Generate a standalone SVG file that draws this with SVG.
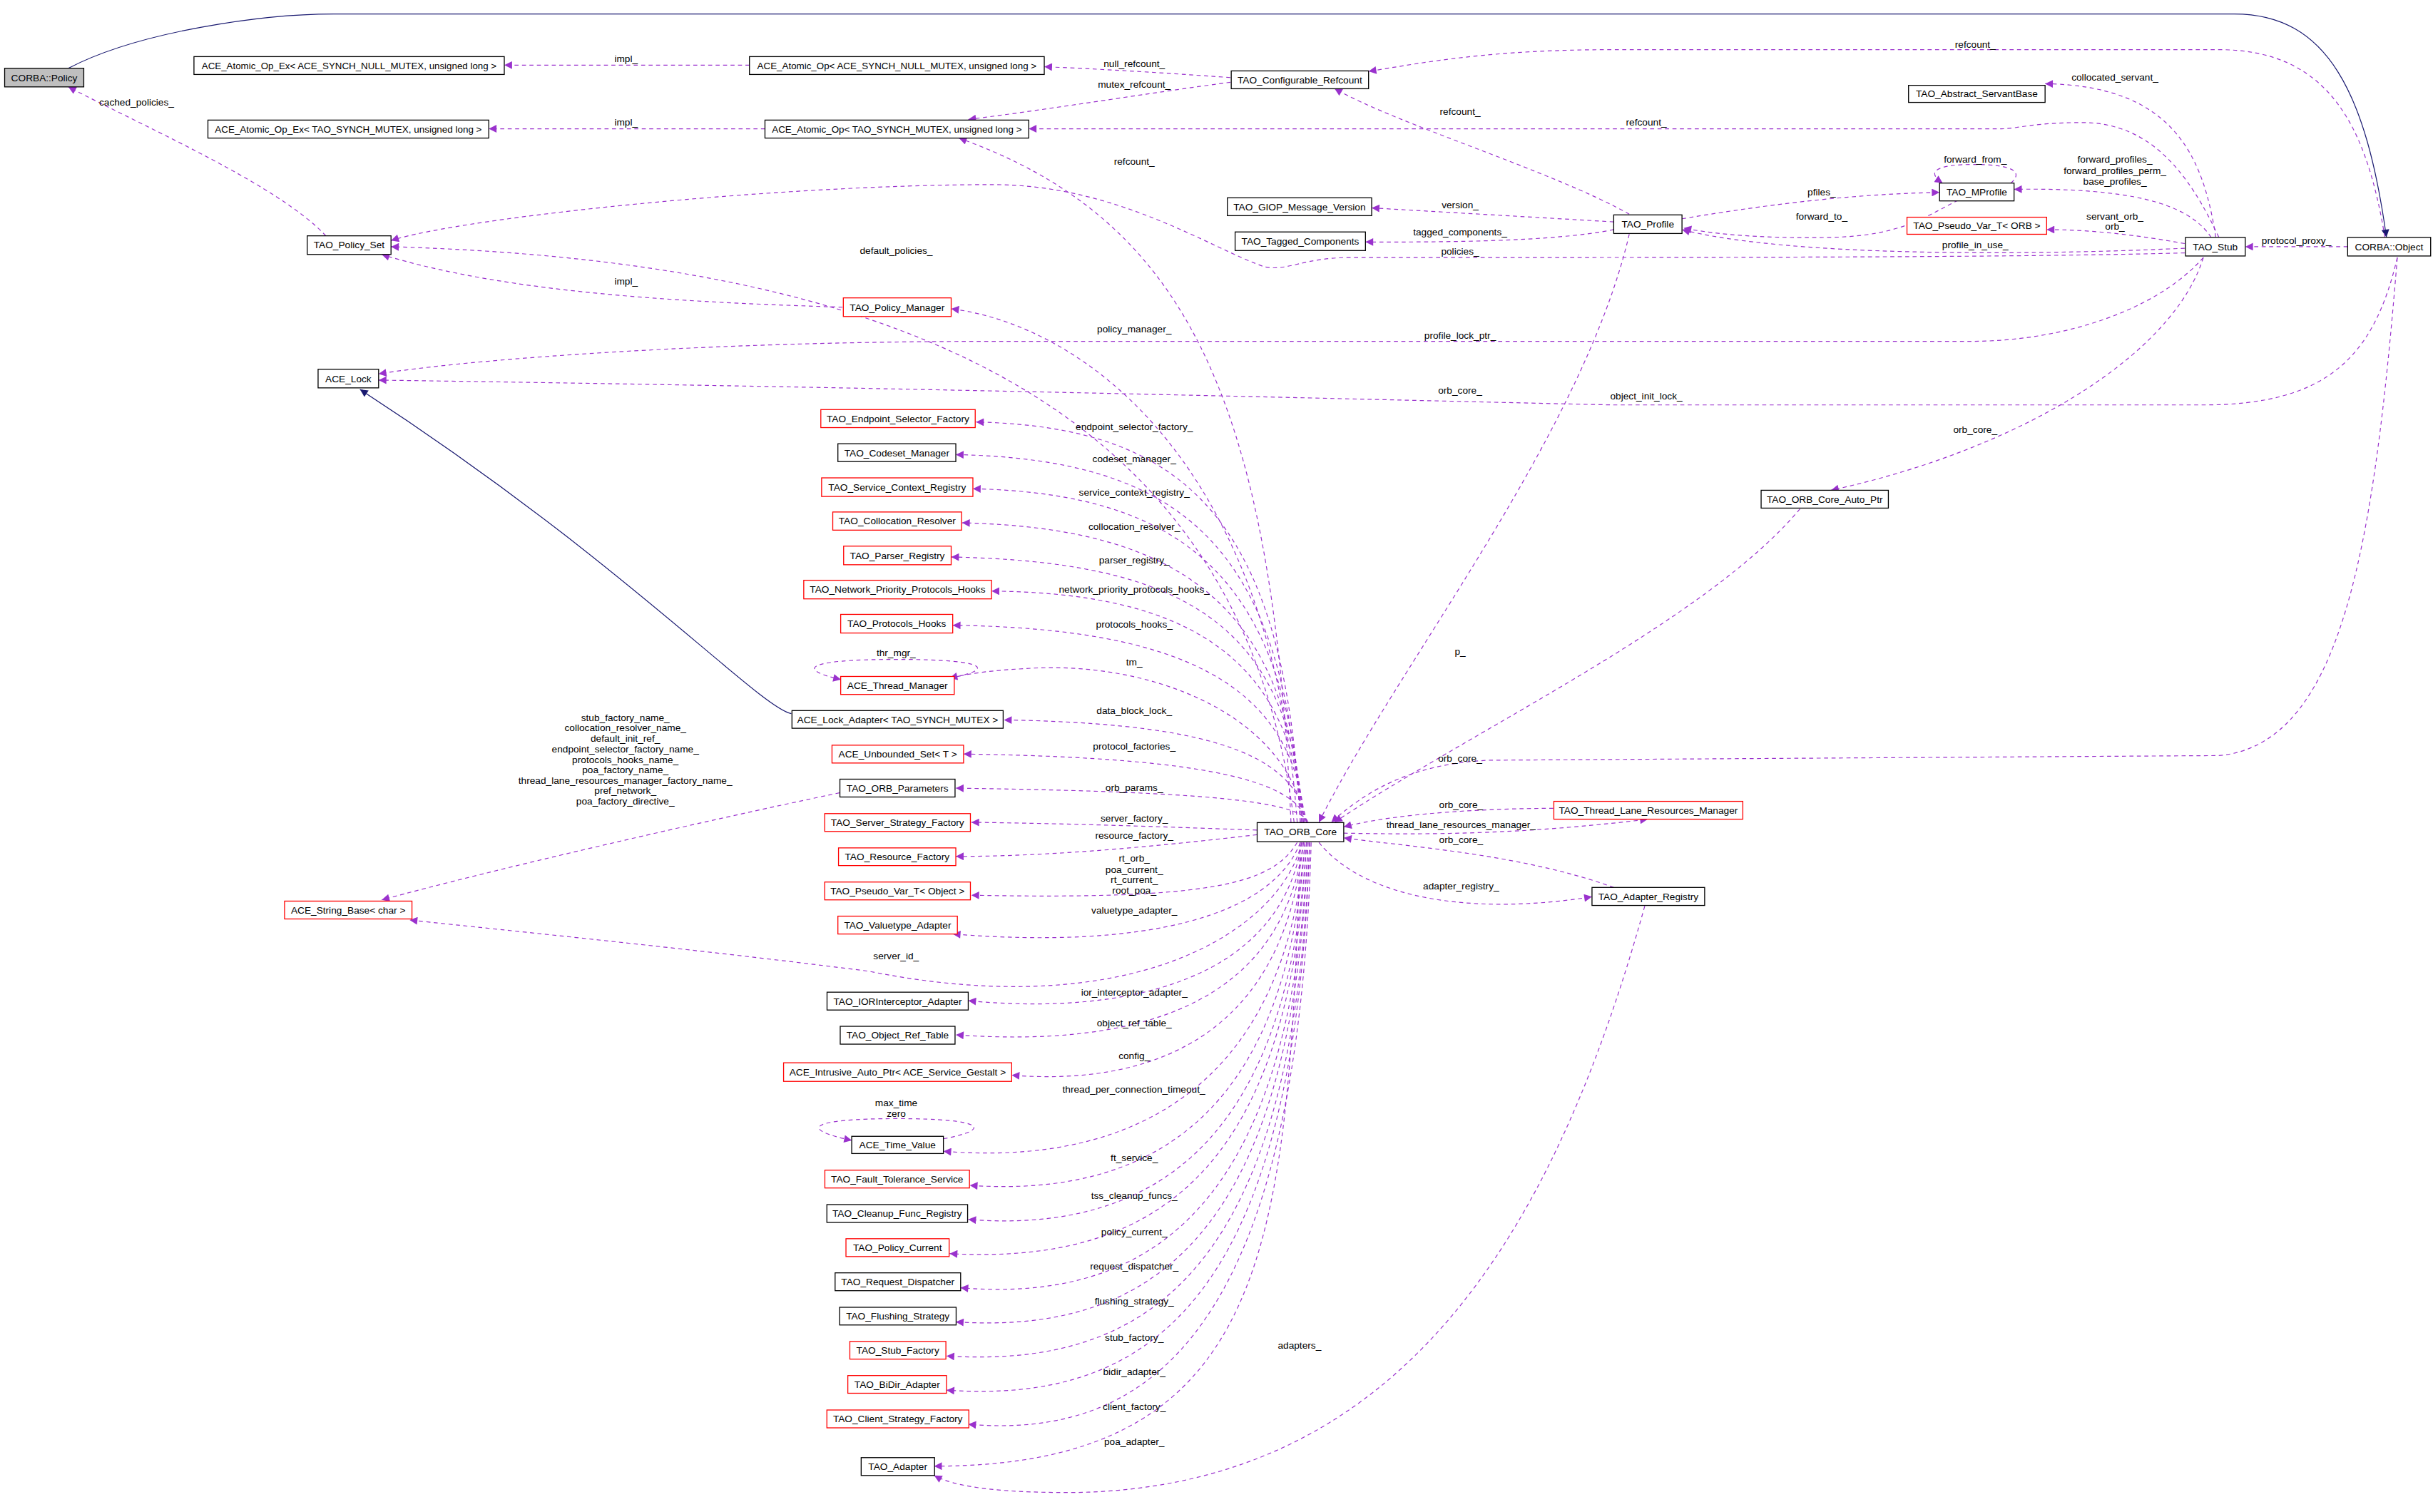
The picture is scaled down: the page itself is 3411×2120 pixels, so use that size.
<svg xmlns="http://www.w3.org/2000/svg" width="3411" height="2120" viewBox="0 0 3411 2120">
<style>
.n rect{fill:#fff;stroke:#000;stroke-width:0.6}
.n.r rect{stroke:#ff0000}
.n.g rect{fill:#bfbfbf}
text{font-family:"Liberation Sans",Arial,sans-serif;font-size:6.3px;fill:#000;text-anchor:middle}
#edges path{fill:none;stroke:#9a32cd;stroke-width:0.55;stroke-dasharray:2.6,2.2;marker-end:url(#ap)}
#edges path.h{stroke:#191970;stroke-dasharray:none;marker-end:url(#an)}
</style>
<defs>
<marker id="ap" viewBox="0 0 10 10" refX="10" refY="5" markerWidth="6.5" markerHeight="5" markerUnits="userSpaceOnUse" orient="auto"><path d="M0,0L10,5L0,10z" fill="#9a32cd"/></marker>
<marker id="an" viewBox="0 0 10 10" refX="10" refY="5" markerWidth="6.5" markerHeight="5" markerUnits="userSpaceOnUse" orient="auto"><path d="M0,0L10,5L0,10z" fill="#191970"/></marker>
</defs>
<rect width="3411" height="2120" fill="#fff"/>
<g transform="scale(2.17538)">
<g id="edges">
<path class="h" d="M44 44 C90 20 170 9 215 9 L1440 9 C1500 9 1525 60 1538 153"/>
<path class="h" d="M510 460 C488 455 400 360 232 251"/>
<path d="M483 42 L325 42"/>
<path d="M493 83 L315 83"/>
<path d="M793 50 C750 47 720 45 673 43"/>
<path d="M793 53 C740 60 680 70 624 77"/>
<path d="M1537 153 C1525 80 1500 32 1430 32 L1040 32 C960 32 920 40 882 46"/>
<path d="M1430 153 C1410 110 1385 79 1342 79 C1310 79 1300 83 1290 83 L663 83"/>
<path d="M1050 138 C1000 110 900 80 860 57"/>
<path d="M832 530 C820 250 760 140 618 89"/>
<path d="M1428 153 C1420 100 1400 55 1318 54"/>
<path d="M1296 118 C1305 110 1295 106 1272 106 C1250 106 1240 110 1252 118"/>
<path d="M1425 153 C1410 130 1370 121 1298 122"/>
<path d="M1084 141 C1150 130 1200 125 1250 124"/>
<path d="M1262 129 C1240 140 1225 152 1180 153 C1130 154 1100 150 1085 147"/>
<path d="M1040 143 L884 134"/>
<path d="M1040 148 C1000 156 930 156 880 156"/>
<path d="M1408 160 C1300 165 1150 165 1084 148"/>
<path d="M1408 157 C1380 152 1350 148 1319 148"/>
<path d="M1513 159 L1447 159"/>
<path d="M1408 163 C1300 166 1100 166 870 166 C840 166 830 175 815 172 C780 160 720 119 640 119 C500 119 300 140 252 155"/>
<path d="M834 530 C800 250 560 168 252 159"/>
<path d="M210 152 C180 120 100 85 44 56"/>
<path d="M543 198 C450 195 330 190 246 164"/>
<path d="M836 530 C820 300 700 210 613 199"/>
<path d="M1420 166 C1390 200 1330 220 1270 220 L640 220 C450 220 300 232 244 241"/>
<path d="M1545 166 C1530 230 1500 261 1420 261 L1040 261 C900 258 600 250 244 245"/>
<path d="M1050 151 C1020 280 900 430 850 530"/>
<path d="M1420 166 C1400 230 1300 290 1180 316"/>
<path d="M1160 328 C1100 400 950 470 860 530"/>
<path d="M1545 166 C1530 350 1510 480 1430 487 L960 490 C910 492 880 510 858 530"/>
<path d="M1001 521 C960 521 900 524 866 533"/>
<path d="M866 537 C920 538 980 538 1062 528"/>
<path d="M1040 572 C980 550 900 545 866 540"/>
<path d="M850 543 C880 580 950 590 1026 578"/>
<path d="M1060 584 C1000 800 900 960 690 962 C640 962 615 958 602 951"/>
<path d="M838 543 C830 800 820 945 602 945"/>
<path d="M838 530 C828 330 760 275 629 272"/>
<path d="M838 530 C828 350 760 296 616 293"/>
<path d="M839 530 C829 370 760 318 627 315"/>
<path d="M839 530 C830 390 760 340 620 337"/>
<path d="M840 530 C831 400 760 362 613 359"/>
<path d="M840 530 C832 420 760 382 639 381"/>
<path d="M841 530 C833 440 760 405 614 403"/>
<path d="M841 530 C830 460 740 425 660 431 C640 432 625 434 612 437"/>
<path d="M842 530 C835 480 760 466 647 464"/>
<path d="M842 530 C836 500 760 488 621 486"/>
<path d="M843 530 C838 515 760 510 616 508"/>
<path d="M810 535 C750 533 700 531 626 530"/>
<path d="M810 538 C750 545 680 552 616 552"/>
<path d="M836 543 C820 570 780 580 626 577"/>
<path d="M838 543 C820 590 740 612 614 602"/>
<path d="M839 543 C825 600 730 660 560 626 C450 612 330 600 264 593"/>
<path d="M839 543 C825 630 730 655 624 645"/>
<path d="M840 543 C826 650 730 675 616 667"/>
<path d="M840 543 C827 670 740 700 652 693"/>
<path d="M841 543 C828 700 730 752 608 742"/>
<path d="M841 543 C829 720 740 772 625 764"/>
<path d="M842 543 C830 740 740 795 624 786"/>
<path d="M842 543 C831 760 740 815 612 808"/>
<path d="M843 543 C832 780 740 840 619 830"/>
<path d="M843 543 C833 800 740 860 616 852"/>
<path d="M844 543 C834 820 740 882 610 874"/>
<path d="M844 543 C835 840 740 905 610 896"/>
<path d="M845 543 C836 860 740 928 624 918"/>
<path d="M612 437 C640 432 640 425 578 425 C515 425 515 432 542 438"/>
<path d="M608 734 C640 728 635 721 578 721 C520 721 515 728 549 735"/>
<path d="M541 511 C450 530 320 560 246 580"/>
</g>
<g id="labels">
<text x="403.5" y="40">impl_</text>
<text x="403.5" y="81">impl_</text>
<text x="731" y="43">null_refcount_</text>
<text x="731" y="56.5">mutex_refcount_</text>
<text x="1273" y="31">refcount_</text>
<text x="1061" y="81">refcount_</text>
<text x="941" y="74">refcount_</text>
<text x="731" y="106">refcount_</text>
<text x="1363" y="52">collocated_servant_</text>
<text x="1273" y="105">forward_from_</text>
<text x="1363" y="105">forward_profiles_</text>
<text x="1363" y="112">forward_profiles_perm_</text>
<text x="1363" y="119">base_profiles_</text>
<text x="1174" y="126">pfiles_</text>
<text x="1174" y="141.5">forward_to_</text>
<text x="941" y="134">version_</text>
<text x="941" y="151.5">tagged_components_</text>
<text x="1363" y="141.5">servant_orb_</text>
<text x="1363" y="148">orb_</text>
<text x="1273" y="160">profile_in_use_</text>
<text x="941" y="164">policies_</text>
<text x="1480" y="157">protocol_proxy_</text>
<text x="88" y="68">cached_policies_</text>
<text x="577.6" y="163.6">default_policies_</text>
<text x="403.5" y="183.5">impl_</text>
<text x="731" y="214">policy_manager_</text>
<text x="941" y="218.5">profile_lock_ptr_</text>
<text x="941" y="253.6">orb_core_</text>
<text x="1061" y="257.6">object_init_lock_</text>
<text x="1273" y="279">orb_core_</text>
<text x="941" y="422">p_</text>
<text x="941" y="491">orb_core_</text>
<text x="731" y="277">endpoint_selector_factory_</text>
<text x="731" y="298">codeset_manager_</text>
<text x="731" y="319.6">service_context_registry_</text>
<text x="731" y="341.7">collocation_resolver_</text>
<text x="731" y="363">parser_registry_</text>
<text x="731" y="382.1">network_priority_protocols_hooks_</text>
<text x="731" y="404.7">protocols_hooks_</text>
<text x="577.5" y="423">thr_mgr_</text>
<text x="731" y="428.7">tm_</text>
<text x="731" y="460">data_block_lock_</text>
<text x="731" y="483">protocol_factories_</text>
<text x="403" y="464.8">stub_factory_name_</text>
<text x="403" y="471.2">collocation_resolver_name_</text>
<text x="403" y="478">default_init_ref_</text>
<text x="403" y="485.1">endpoint_selector_factory_name_</text>
<text x="403" y="491.7">protocols_hooks_name_</text>
<text x="403" y="498.5">poa_factory_name_</text>
<text x="403" y="505.3">thread_lane_resources_manager_factory_name_</text>
<text x="403" y="511.8">pref_network_</text>
<text x="403" y="518.6">poa_factory_directive_</text>
<text x="731" y="509.6">orb_params_</text>
<text x="731" y="529.7">server_factory_</text>
<text x="731" y="540.8">resource_factory_</text>
<text x="731" y="555.3">rt_orb_</text>
<text x="731" y="562.5">poa_current_</text>
<text x="731" y="568.9">rt_current_</text>
<text x="731" y="575.9">root_poa_</text>
<text x="731" y="589">valuetype_adapter_</text>
<text x="577.5" y="618.5">server_id_</text>
<text x="731" y="641.7">ior_interceptor_adapter_</text>
<text x="731" y="661.5">object_ref_table_</text>
<text x="731" y="682.5">config_</text>
<text x="730.7" y="704.4">thread_per_connection_timeout_</text>
<text x="577.6" y="713.2">max_time</text>
<text x="577.6" y="719.9">zero</text>
<text x="731" y="748.6">ft_service_</text>
<text x="731" y="772.6">tss_cleanup_funcs_</text>
<text x="731" y="796.2">policy_current_</text>
<text x="731" y="818.4">request_dispatcher_</text>
<text x="731" y="841">flushing_strategy_</text>
<text x="731" y="864">stub_factory_</text>
<text x="731" y="886.4">bidir_adapter_</text>
<text x="731" y="908.6">client_factory_</text>
<text x="731" y="931.3">poa_adapter_</text>
<text x="837.5" y="869.5">adapters_</text>
<text x="941.6" y="520.7">orb_core_</text>
<text x="941.6" y="533.5">thread_lane_resources_manager_</text>
<text x="941.6" y="543.2">orb_core_</text>
<text x="941.6" y="573.4">adapter_registry_</text>
</g>
<g id="n1" class="n g"><rect x="3" y="44" width="51" height="12"/><text x="28.5" y="52.2">CORBA::Policy</text></g>
<g id="n2" class="n"><rect x="125" y="36.5" width="200" height="11.5"/><text x="225" y="44.5" textLength="190" lengthAdjust="spacingAndGlyphs">ACE_Atomic_Op_Ex&lt; ACE_SYNCH_NULL_MUTEX, unsigned long &gt;</text></g>
<g id="n3" class="n"><rect x="483" y="36.5" width="190" height="11.5"/><text x="578" y="44.5" textLength="180" lengthAdjust="spacingAndGlyphs">ACE_Atomic_Op&lt; ACE_SYNCH_NULL_MUTEX, unsigned long &gt;</text></g>
<g id="n4" class="n"><rect x="134" y="77.4" width="181" height="11.6"/><text x="224.5" y="85.4" textLength="172" lengthAdjust="spacingAndGlyphs">ACE_Atomic_Op_Ex&lt; TAO_SYNCH_MUTEX, unsigned long &gt;</text></g>
<g id="n5" class="n"><rect x="493" y="77.4" width="170" height="11.6"/><text x="578" y="85.4" textLength="161" lengthAdjust="spacingAndGlyphs">ACE_Atomic_Op&lt; TAO_SYNCH_MUTEX, unsigned long &gt;</text></g>
<g id="n6" class="n"><rect x="793.5" y="45.7" width="88.5" height="11.5"/><text x="837.7" y="53.7">TAO_Configurable_Refcount</text></g>
<g id="n7" class="n"><rect x="1230" y="55" width="88" height="11"/><text x="1274" y="62.7">TAO_Abstract_ServantBase</text></g>
<g id="n8" class="n"><rect x="1250" y="118" width="48" height="11.5"/><text x="1274" y="126">TAO_MProfile</text></g>
<g id="n9" class="n"><rect x="791" y="127.5" width="93" height="11.5"/><text x="837.5" y="135.5">TAO_GIOP_Message_Version</text></g>
<g id="n10" class="n"><rect x="796" y="149.5" width="84" height="12"/><text x="838" y="157.7">TAO_Tagged_Components</text></g>
<g id="n11" class="n"><rect x="1040" y="138.5" width="44" height="12"/><text x="1062" y="146.7">TAO_Profile</text></g>
<g id="n12" class="n r"><rect x="1229" y="140" width="90" height="11"/><text x="1274" y="147.7">TAO_Pseudo_Var_T&lt; ORB &gt;</text></g>
<g id="n13" class="n"><rect x="1408.5" y="153" width="38.5" height="12"/><text x="1427.7" y="161.2">TAO_Stub</text></g>
<g id="n14" class="n"><rect x="1513" y="153" width="53.5" height="12"/><text x="1539.7" y="161.2">CORBA::Object</text></g>
<g id="n15" class="n"><rect x="198" y="152" width="54" height="12"/><text x="225" y="160.2">TAO_Policy_Set</text></g>
<g id="n16" class="n r"><rect x="543.5" y="192" width="69.5" height="12"/><text x="578.2" y="200.2">TAO_Policy_Manager</text></g>
<g id="n17" class="n"><rect x="205" y="238" width="39" height="12"/><text x="224.5" y="246.2">ACE_Lock</text></g>
<g id="n18" class="n r"><rect x="529" y="264" width="99.5" height="11.6"/><text x="578.7" y="272">TAO_Endpoint_Selector_Factory</text></g>
<g id="n19" class="n"><rect x="540" y="286" width="76" height="11.5"/><text x="578" y="294">TAO_Codeset_Manager</text></g>
<g id="n20" class="n r"><rect x="529.5" y="308" width="97.5" height="12"/><text x="578.2" y="316.2">TAO_Service_Context_Registry</text></g>
<g id="n21" class="n r"><rect x="536.7" y="330" width="83" height="11.7"/><text x="578.2" y="338.1">TAO_Collocation_Resolver</text></g>
<g id="n22" class="n r"><rect x="543.7" y="352" width="69.3" height="12"/><text x="578.3" y="360.2">TAO_Parser_Registry</text></g>
<g id="n23" class="n r"><rect x="518" y="374" width="121" height="12"/><text x="578.5" y="382.2">TAO_Network_Priority_Protocols_Hooks</text></g>
<g id="n24" class="n r"><rect x="541.8" y="396" width="72.2" height="12"/><text x="577.9" y="404.2">TAO_Protocols_Hooks</text></g>
<g id="n25" class="n r"><rect x="541.8" y="436" width="73.2" height="11.6"/><text x="578.4" y="444">ACE_Thread_Manager</text></g>
<g id="n26" class="n"><rect x="510.4" y="458" width="136.1" height="11.4"/><text x="578.5" y="465.9">ACE_Lock_Adapter&lt; TAO_SYNCH_MUTEX &gt;</text></g>
<g id="n27" class="n r"><rect x="536.2" y="480.3" width="84.8" height="11.5"/><text x="578.6" y="488.3">ACE_Unbounded_Set&lt; T &gt;</text></g>
<g id="n28" class="n"><rect x="541.3" y="502.2" width="74.2" height="11.5"/><text x="578.4" y="510.2">TAO_ORB_Parameters</text></g>
<g id="n29" class="n r"><rect x="531.5" y="524.4" width="93.9" height="11.5"/><text x="578.4" y="532.4">TAO_Server_Strategy_Factory</text></g>
<g id="n30" class="n r"><rect x="540.4" y="546.5" width="75.6" height="11.4"/><text x="578.2" y="554.4">TAO_Resource_Factory</text></g>
<g id="n31" class="n r"><rect x="531.5" y="568.5" width="93.9" height="11.5"/><text x="578.4" y="576.5">TAO_Pseudo_Var_T&lt; Object &gt;</text></g>
<g id="n32" class="n r"><rect x="540" y="590.5" width="77" height="11.5"/><text x="578.5" y="598.5">TAO_Valuetype_Adapter</text></g>
<g id="n33" class="n r"><rect x="183.4" y="580.8" width="82.1" height="11.5"/><text x="224.4" y="588.8">ACE_String_Base&lt; char &gt;</text></g>
<g id="n34" class="n"><rect x="533" y="639.5" width="91" height="11.5"/><text x="578.5" y="647.5">TAO_IORInterceptor_Adapter</text></g>
<g id="n35" class="n"><rect x="541.5" y="661.5" width="74" height="11.5"/><text x="578.5" y="669.5">TAO_Object_Ref_Table</text></g>
<g id="n36" class="n r"><rect x="505" y="685" width="147" height="12"/><text x="578.5" y="693.2">ACE_Intrusive_Auto_Ptr&lt; ACE_Service_Gestalt &gt;</text></g>
<g id="n37" class="n"><rect x="548.9" y="732.4" width="59.1" height="11.1"/><text x="578.4" y="740.2">ACE_Time_Value</text></g>
<g id="n38" class="n r"><rect x="531.6" y="754.2" width="93.2" height="11.5"/><text x="578.2" y="762.2">TAO_Fault_Tolerance_Service</text></g>
<g id="n39" class="n"><rect x="532.9" y="776.4" width="90.7" height="11.5"/><text x="578.2" y="784.4">TAO_Cleanup_Func_Registry</text></g>
<g id="n40" class="n r"><rect x="545.2" y="798.4" width="66.5" height="11.5"/><text x="578.4" y="806.4">TAO_Policy_Current</text></g>
<g id="n41" class="n"><rect x="538.2" y="820.4" width="80.9" height="11.5"/><text x="578.6" y="828.4">TAO_Request_Dispatcher</text></g>
<g id="n42" class="n"><rect x="541.1" y="842.6" width="75.1" height="11.4"/><text x="578.6" y="850.5">TAO_Flushing_Strategy</text></g>
<g id="n43" class="n r"><rect x="547.7" y="864.6" width="61.9" height="11.4"/><text x="578.6" y="872.5">TAO_Stub_Factory</text></g>
<g id="n44" class="n r"><rect x="546.4" y="886.6" width="63.6" height="11.4"/><text x="578.2" y="894.5">TAO_BiDir_Adapter</text></g>
<g id="n45" class="n r"><rect x="532.9" y="908.8" width="91.5" height="11.5"/><text x="578.6" y="916.8">TAO_Client_Strategy_Factory</text></g>
<g id="n46" class="n"><rect x="555" y="939.5" width="47.3" height="11.5"/><text x="578.6" y="947.5">TAO_Adapter</text></g>
<g id="n47" class="n"><rect x="810.2" y="530.2" width="55.8" height="12.3"/><text x="838.1" y="538.5">TAO_ORB_Core</text></g>
<g id="n48" class="n r"><rect x="1001.4" y="516.5" width="121.8" height="11.5"/><text x="1062.3" y="524.5">TAO_Thread_Lane_Resources_Manager</text></g>
<g id="n49" class="n"><rect x="1026" y="572" width="72.6" height="11.6"/><text x="1062.3" y="580">TAO_Adapter_Registry</text></g>
<g id="n50" class="n"><rect x="1135" y="316" width="82" height="11.5"/><text x="1176" y="324">TAO_ORB_Core_Auto_Ptr</text></g>
</g>
</svg>
